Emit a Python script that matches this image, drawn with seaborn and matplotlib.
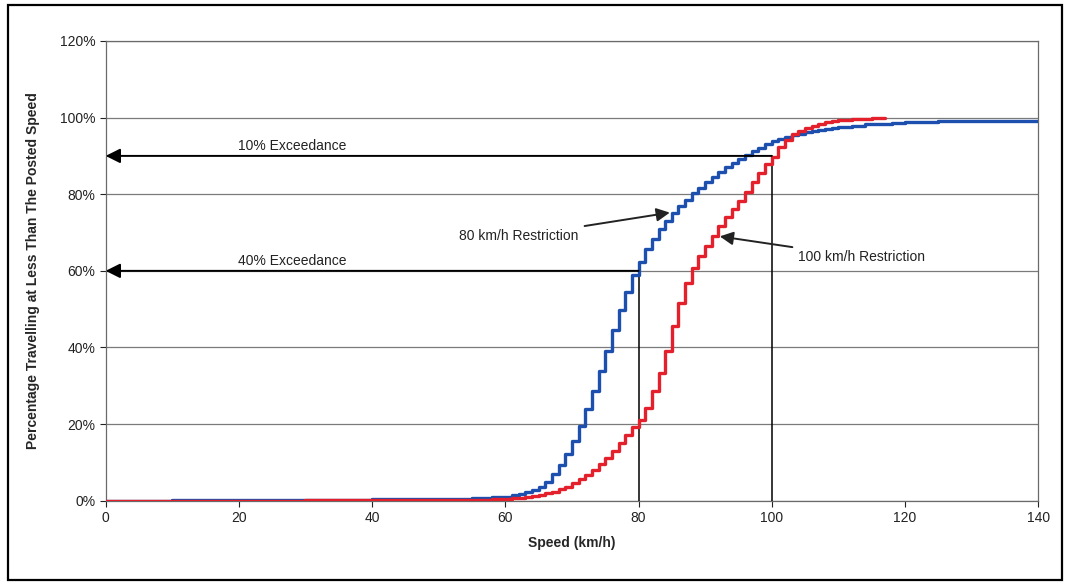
import numpy as np
import pandas as pd
import matplotlib
matplotlib.use("Agg")
import matplotlib.pyplot as plt
import seaborn as sns
from matplotlib.patches import Rectangle

# ---------------- data ----------------
speed_80 = [0, 5, 10, 15, 20, 25, 30, 35, 40, 45, 50, 55, 56, 57, 58, 59,
            60, 61, 62, 63, 64, 65, 66, 67, 68, 69, 70, 71, 72, 73, 74, 75,
            76, 77, 78, 79, 80, 81, 82, 83, 84, 85, 86, 87, 88, 89, 90, 91,
            92, 93, 94, 95, 96, 97, 98, 99, 100, 101, 102, 103, 104, 105,
            106, 107, 108, 109, 110, 112, 114, 116, 118, 120, 122, 125, 128,
            131, 134, 137, 140]
pct_80 = [0.0, 0.05, 0.1, 0.1, 0.15, 0.2, 0.25, 0.3, 0.35, 0.4, 0.5, 0.6,
          0.7, 0.8, 0.9, 1.0,
          1.1, 1.4, 1.8, 2.3, 2.8, 3.6, 5.0, 6.9, 9.4, 12.3, 15.6, 19.5,
          23.9, 28.6, 33.8, 39.2, 44.6, 49.7, 54.4, 58.8, 62.3, 65.7, 68.4,
          70.9, 73.1, 75.1, 76.9, 78.6, 80.2, 81.7, 83.2, 84.6, 85.9, 87.1,
          88.2, 89.3, 90.3, 91.2, 92.1, 93.0, 93.8, 94.4, 94.9, 95.4, 95.8,
          96.2, 96.5, 96.8, 97.1, 97.3, 97.5, 97.9, 98.2, 98.4, 98.6, 98.8,
          98.9, 99.0, 99.1, 99.15, 99.2, 99.2, 99.2]

speed_100 = [0, 10, 20, 30, 40, 45, 50, 55, 58, 60, 61, 62, 63, 64, 65, 66,
             67, 68, 69, 70, 71, 72, 73, 74, 75, 76, 77, 78, 79, 80, 81, 82,
             83, 84, 85, 86, 87, 88, 89, 90, 91, 92, 93, 94, 95, 96, 97, 98,
             99, 100, 101, 102, 103, 104, 105, 106, 107, 108, 109, 110, 111,
             112, 113, 114, 115, 116, 117]
pct_100 = [0.0, 0.02, 0.05, 0.07, 0.1, 0.12, 0.2, 0.3, 0.4, 0.5, 0.6, 0.8,
           1.0, 1.2, 1.5, 1.9, 2.4, 3.0, 3.7, 4.6, 5.6, 6.7, 8.0, 9.5, 11.2,
           13.0, 15.0, 17.2, 19.2, 21.0, 24.2, 28.6, 33.3, 39.2, 45.7, 51.6,
           56.8, 60.8, 63.8, 66.5, 69.2, 71.8, 74.1, 76.2, 78.3, 80.7, 83.2,
           85.6, 87.8, 89.8, 92.2, 94.2, 95.6, 96.6, 97.3, 97.9, 98.4, 98.8,
           99.1, 99.3, 99.5, 99.6, 99.7, 99.75, 99.8, 99.8, 99.8]

series_names = ["80 km/h Restriction", "100 km/h Restriction"]
series_colors = ["#1c4fae", "#e3202c"]

exceed_labels = ["10% Exceedance", "40% Exceedance"]
exceed_speed = [100, 80]
exceed_pct = [90, 60]

x_ticks = [0, 20, 40, 60, 80, 100, 120, 140]
y_ticks = [0, 20, 40, 60, 80, 100, 120]

# ---------------- figure ----------------
sns.set_theme(style="white")
plt.rcParams["font.family"] = ["Liberation Sans", "DejaVu Sans"]

fig = plt.figure(figsize=(10.67, 5.85), dpi=100)
ax = fig.add_axes([0.099, 0.144, 0.874, 0.786])

df = pd.concat([
    pd.DataFrame({"Speed": speed_80, "Pct": pct_80, "Series": series_names[0]}),
    pd.DataFrame({"Speed": speed_100, "Pct": pct_100, "Series": series_names[1]}),
])

sns.lineplot(data=df, x="Speed", y="Pct", hue="Series",
             palette=dict(zip(series_names, series_colors)),
             drawstyle="steps-post", linewidth=2.4, legend=False,
             estimator=None, sort=True, ax=ax, zorder=4)

ax.set_xlim(0, 140)
ax.set_ylim(0, 120)
ax.set_xticks(x_ticks)
ax.set_yticks(y_ticks)
ax.set_yticklabels([f"{v}%" for v in y_ticks])
ax.tick_params(axis="both", labelsize=10, colors="#222222", length=4,
               width=0.8, direction="out", bottom=True, left=True)
for t in ax.get_xticklabels() + ax.get_yticklabels():
    t.set_color("#222222")
ax.yaxis.grid(True, color="#7a7a7a", linewidth=0.9)
ax.xaxis.grid(False)
for s in ax.spines.values():
    s.set_color("#6a6a6a")
    s.set_linewidth(0.9)

ax.set_xlabel("Speed (km/h)", fontsize=10, fontweight="bold", labelpad=8)
ax.set_ylabel("Percentage Travelling at Less Than The Posted Speed",
              fontsize=10, fontweight="bold", labelpad=14)

# exceedance reference lines and arrows
for lab, sx, py in zip(exceed_labels, exceed_speed, exceed_pct):
    ax.plot([sx, sx], [0, py], color="black", linewidth=1.1, zorder=3)
    ax.annotate("", xy=(0, py), xytext=(sx, py),
                arrowprops=dict(arrowstyle="-|>", color="black", lw=1.4,
                                mutation_scale=22, shrinkA=0, shrinkB=0),
                zorder=5, annotation_clip=False)
    ax.text(28, py + 2.6, lab, fontsize=10, ha="center", va="center",
            color="#222222", zorder=6)

# series callouts
ax.annotate(series_names[0], xy=(84.7, 75.2), xytext=(71.0, 69.0),
            fontsize=10, ha="right", va="center", color="#222222",
            arrowprops=dict(arrowstyle="-|>", color="#222222", lw=1.4,
                            mutation_scale=20, shrinkA=2, shrinkB=0),
            zorder=6)
ax.annotate(series_names[1], xy=(92.2, 69.0), xytext=(104.0, 63.5),
            fontsize=10, ha="left", va="center", color="#222222",
            arrowprops=dict(arrowstyle="-|>", color="#222222", lw=1.4,
                            mutation_scale=20, shrinkA=2, shrinkB=0),
            zorder=6)

# outer frame
fig.patches.append(Rectangle((8 / 1067, 5 / 585), 1054 / 1067, 575 / 585,
                             transform=fig.transFigure, fill=False,
                             edgecolor="black", linewidth=1.6))

fig.savefig("out.png", dpi=100)
